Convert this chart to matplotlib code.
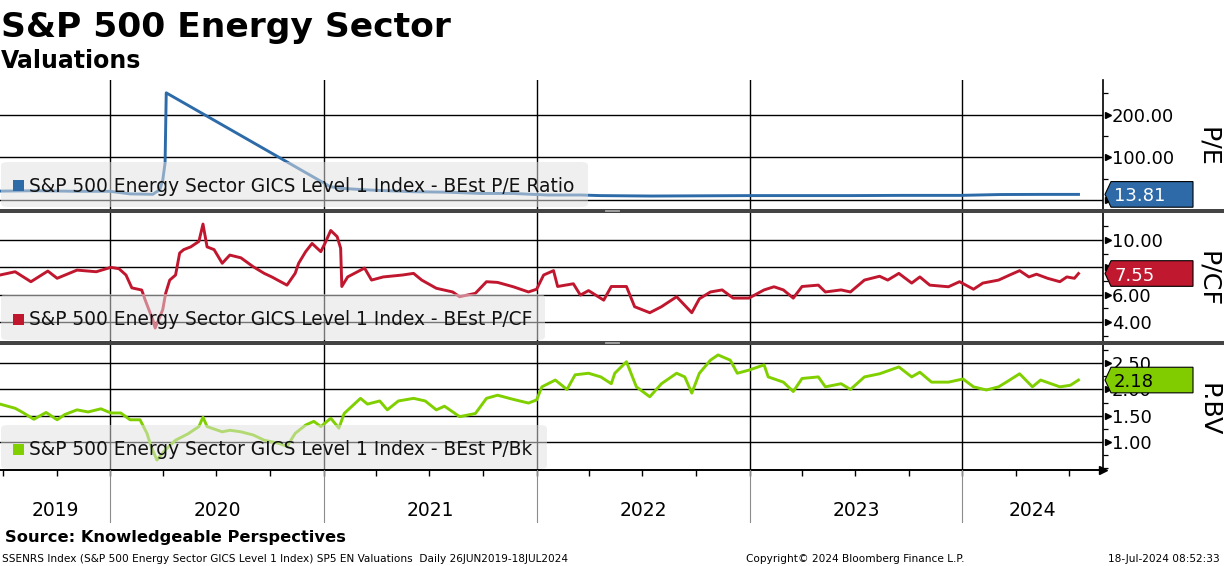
import matplotlib
matplotlib.use("Agg")
import matplotlib.pyplot as plt
import matplotlib.dates as mdates
import matplotlib.ticker as mticker
from matplotlib.patches import Polygon, FancyBboxPatch, Rectangle
from matplotlib.lines import Line2D
from matplotlib.transforms import blended_transform_factory
import pandas as pd

plt.rcParams['font.family'] = ['DejaVu Sans']

# ---------------- text ----------------
TITLE = "S&P 500 Energy Sector"
SUBTITLE = "Valuations"
SOURCE = "Source: Knowledgeable Perspectives"
FOOT_LEFT = "SSENRS Index (S&P 500 Energy Sector GICS Level 1 Index) SP5 EN Valuations  Daily 26JUN2019-18JUL2024"
FOOT_MID = "Copyright\u00a9 2024 Bloomberg Finance L.P."
FOOT_RIGHT = "18-Jul-2024 08:52:33"
panel_labels = ["P/E", "P/CF", "P.BV"]
legend_labels = ["S&P 500 Energy Sector GICS Level 1 Index - BEst P/E Ratio",
                 "S&P 500 Energy Sector GICS Level 1 Index - BEst P/CF",
                 "S&P 500 Energy Sector GICS Level 1 Index - BEst P/Bk"]

# ---------------- data ----------------
pe_dates = ["2019-06-26", "2019-08-30", "2019-11-05", "2020-01-01", "2020-02-04", "2020-03-14",
            "2020-03-26", "2020-03-31", "2020-04-04", "2020-04-06", "2021-01-12", "2021-01-30",
            "2021-03-21", "2021-06-04", "2021-07-31", "2021-09-27", "2021-11-22", "2022-01-19",
            "2022-03-17", "2022-04-20", "2022-07-16", "2022-10-08", "2022-12-31", "2023-03-29",
            "2023-06-23", "2023-09-17", "2023-12-28", "2024-03-06", "2024-05-14", "2024-07-18"]
pe_values = [21.5, 22.4, 21.0, 21.0, 15.0, 14.0,
             25.0, 47.0, 87.0, 251.0, 32.0, 28.0,
             24.0, 20.0, 19.0, 16.0, 16.0, 12.4,
             12.4, 11.0, 10.0, 10.5, 11.0, 11.0,
             11.0, 11.5, 11.5, 13.5, 13.8, 13.81]

pcf_dates = ["2019-06-26", "2019-07-22", "2019-08-18", "2019-09-16", "2019-10-02", "2019-11-05",
             "2019-12-08", "2020-01-02", "2020-01-16", "2020-01-28", "2020-02-07", "2020-02-24",
             "2020-03-01", "2020-03-14", "2020-03-18", "2020-03-31", "2020-04-05", "2020-04-12",
             "2020-04-22", "2020-04-29", "2020-05-06", "2020-05-18", "2020-06-01", "2020-06-08",
             "2020-06-15", "2020-06-27", "2020-07-11", "2020-07-24", "2020-08-12", "2020-09-02",
             "2020-09-21", "2020-10-04", "2020-10-30", "2020-11-13", "2020-11-19", "2020-12-01",
             "2020-12-12", "2020-12-27", "2021-01-03", "2021-01-13", "2021-01-24", "2021-01-30",
             "2021-02-01", "2021-02-11", "2021-03-12", "2021-03-24", "2021-04-13", "2021-05-16",
             "2021-06-04", "2021-06-18", "2021-07-13", "2021-08-10", "2021-08-22", "2021-09-18",
             "2021-10-07", "2021-10-26", "2021-11-22", "2021-12-18", "2022-01-01", "2022-01-13",
             "2022-01-30", "2022-02-06", "2022-03-05", "2022-03-17", "2022-03-31", "2022-04-26",
             "2022-05-09", "2022-06-04", "2022-06-18", "2022-07-14", "2022-08-03", "2022-08-29",
             "2022-09-24", "2022-10-07", "2022-10-26", "2022-11-15", "2022-12-04", "2022-12-31",
             "2023-01-26", "2023-02-12", "2023-02-28", "2023-03-17", "2023-04-01", "2023-04-29",
             "2023-05-11", "2023-06-07", "2023-06-23", "2023-07-17", "2023-08-12", "2023-08-26",
             "2023-09-14", "2023-10-06", "2023-10-20", "2023-11-06", "2023-12-08", "2023-12-27",
             "2024-01-20", "2024-02-05", "2024-03-03", "2024-03-22", "2024-04-08", "2024-04-24",
             "2024-05-07", "2024-05-26", "2024-06-16", "2024-06-28", "2024-07-11", "2024-07-18"]
pcf_values = [7.44, 7.68, 6.95, 7.73, 7.20, 7.80,
              7.68, 8.00, 7.90, 7.44, 6.50, 6.34,
              5.60, 4.15, 3.56, 4.90, 6.10, 7.07,
              7.44, 9.05, 9.30, 9.50, 9.90, 11.17,
              9.50, 9.30, 8.30, 8.90, 8.70, 8.05,
              7.56, 7.30, 6.70, 7.56, 8.30, 9.15,
              9.75, 9.15, 9.75, 10.70, 10.25, 9.40,
              6.60, 7.30, 7.95, 7.07, 7.30, 7.44,
              7.56, 7.07, 6.47, 6.20, 5.85, 6.10,
              6.95, 6.90, 6.58, 6.20, 6.40, 7.44,
              7.76, 6.60, 6.80, 5.97, 6.30, 5.60,
              6.60, 6.60, 5.12, 4.68, 5.12, 5.85,
              4.68, 5.70, 6.20, 6.35, 5.75, 5.75,
              6.35, 6.58, 6.35, 5.75, 6.60, 6.70,
              6.20, 6.35, 6.20, 7.07, 7.35, 7.07,
              7.56, 6.85, 7.30, 6.70, 6.58, 6.95,
              6.40, 6.85, 7.07, 7.44, 7.76, 7.30,
              7.50, 7.20, 6.95, 7.30, 7.20, 7.55]

pb_dates = ["2019-06-26", "2019-07-22", "2019-08-04", "2019-08-23", "2019-09-13", "2019-10-02",
            "2019-10-15", "2019-11-05", "2019-11-24", "2019-12-16", "2020-01-02", "2020-01-19",
            "2020-02-04", "2020-02-21", "2020-03-04", "2020-03-11", "2020-03-21", "2020-04-04",
            "2020-04-22", "2020-05-13", "2020-06-01", "2020-06-08", "2020-06-15", "2020-07-11",
            "2020-07-24", "2020-08-12", "2020-09-02", "2020-09-21", "2020-10-16", "2020-10-30",
            "2020-11-13", "2020-12-01", "2020-12-15", "2020-12-27", "2021-01-13", "2021-01-27",
            "2021-02-05", "2021-03-05", "2021-03-17", "2021-04-07", "2021-04-20", "2021-05-09",
            "2021-06-04", "2021-06-24", "2021-07-13", "2021-07-27", "2021-08-22", "2021-09-18",
            "2021-10-07", "2021-10-26", "2021-11-22", "2021-12-18", "2022-01-01", "2022-01-10",
            "2022-02-02", "2022-02-22", "2022-03-08", "2022-03-31", "2022-04-21", "2022-05-09",
            "2022-05-15", "2022-06-04", "2022-06-21", "2022-07-14", "2022-08-03", "2022-08-29",
            "2022-09-12", "2022-09-24", "2022-10-07", "2022-10-26", "2022-11-08", "2022-11-29",
            "2022-12-11", "2022-12-31", "2023-01-26", "2023-02-02", "2023-02-28", "2023-03-17",
            "2023-04-01", "2023-04-29", "2023-05-11", "2023-06-07", "2023-06-23", "2023-07-17",
            "2023-08-12", "2023-09-14", "2023-10-06", "2023-10-20", "2023-11-09", "2023-12-08",
            "2024-01-02", "2024-01-20", "2024-02-11", "2024-03-03", "2024-03-22", "2024-04-08",
            "2024-04-30", "2024-05-14", "2024-06-16", "2024-07-04", "2024-07-18"]
pb_values = [1.72, 1.64, 1.56, 1.43, 1.56, 1.42,
             1.52, 1.61, 1.57, 1.63, 1.55, 1.55,
             1.42, 1.42, 1.16, 0.91, 0.65, 0.84,
             1.03, 1.15, 1.29, 1.47, 1.29, 1.19,
             1.22, 1.19, 1.13, 1.03, 0.97, 0.91,
             1.16, 1.32, 1.39, 1.29, 1.45, 1.26,
             1.54, 1.83, 1.72, 1.78, 1.61, 1.78,
             1.83, 1.78, 1.61, 1.68, 1.48, 1.54,
             1.83, 1.89, 1.81, 1.74, 1.80, 2.05,
             2.18, 2.00, 2.28, 2.31, 2.24, 2.11,
             2.31, 2.53, 2.05, 1.86, 2.11, 2.31,
             2.24, 1.93, 2.31, 2.56, 2.66, 2.56,
             2.31, 2.37, 2.47, 2.24, 2.14, 1.96,
             2.21, 2.24, 2.05, 2.11, 2.00, 2.24,
             2.30, 2.43, 2.24, 2.33, 2.14, 2.14,
             2.20, 2.05, 1.99, 2.05, 2.18, 2.30,
             2.05, 2.18, 2.05, 2.08, 2.18]

pe_major = [0, 100, 200]
pe_major_labels = ["", "100.00", "200.00"]
pe_minor = [-50, 50, 150, 250]
pcf_major = [4, 6, 8, 10]
pcf_major_labels = ["4.00", "6.00", "8.00", "10.00"]
pcf_minor = [3, 5, 7, 9, 11]
pb_major = [1.0, 1.5, 2.0, 2.5]
pb_major_labels = ["1.00", "1.50", "2.00", "2.50"]
pb_minor = [0.5, 0.75, 1.25, 1.75, 2.25, 2.75]
years = [2019, 2020, 2021, 2022, 2023, 2024]
x_start, x_end = "2019-06-26", "2024-08-29"

colors = ["#2d6ba8", "#c0172f", "#80d000"]
box_colors = ["#2e6aa7", "#c0182f", "#80cc00"]
box_text_colors = ["white", "white", "black"]

# ---------------- layout (pixels) ----------------
W, H = 1224, 566
fig = plt.figure(figsize=(W / 100, H / 100), dpi=100)
PLOT_R = 1103


def fx(px):
    return px / W


def fy(py):
    return 1 - py / H


panel_geo = [(80, 209, (-20.3, 281.0)),
             (213, 341, (2.61, 11.98)),
             (345, 470, (0.46, 2.85))]
series = [(pe_dates, pe_values, pe_major, pe_minor, pe_major_labels),
          (pcf_dates, pcf_values, pcf_major, pcf_minor, pcf_major_labels),
          (pb_dates, pb_values, pb_major, pb_minor, pb_major_labels)]
legend_geo = [(162, 207, 588, 191.7), (294, 340, 545, 325), (425, 469, 547, 455)]
label_cy = [147, 279, 410]

xmin, xmax = pd.Timestamp(x_start), pd.Timestamp(x_end)
axes = []
for i, ((top, bot, ylim), (d, v, maj, mnr, labs)) in enumerate(zip(panel_geo, series)):
    ax = fig.add_axes([0, fy(bot), fx(PLOT_R), (bot - top) / H])
    axes.append(ax)
    ax.plot(pd.to_datetime(d), v, color=colors[i], lw=2.1, solid_joinstyle='round', zorder=3)
    ax.set_xlim(xmin, xmax)
    ax.set_ylim(*ylim)
    ax.yaxis.tick_right()
    ax.yaxis.set_major_locator(mticker.FixedLocator(maj))
    ax.yaxis.set_minor_locator(mticker.FixedLocator(mnr))
    ax.yaxis.set_major_formatter(mticker.FixedFormatter(labs))
    ax.tick_params(axis='y', which='major', length=0, pad=6.5, labelsize=13)
    ax.tick_params(axis='y', which='minor', length=3.5, width=0.9, direction='out', color='black')
    ax.xaxis.set_major_locator(mdates.YearLocator())
    ax.xaxis.set_minor_locator(mdates.MonthLocator(bymonth=[1, 4, 7, 10]))
    ax.grid(True, which='major', color='black', lw=1.0, zorder=1)
    for s in ['left', 'top', 'bottom']:
        ax.spines[s].set_visible(False)
    ax.spines['right'].set_linewidth(1.2)
    if i < 2:
        ax.tick_params(axis='x', which='both', length=0, labelbottom=False)
    else:
        ax.spines['bottom'].set_visible(True)
        ax.spines['bottom'].set_linewidth(1.4)
        ax.tick_params(axis='x', which='both', length=4.3, width=1.0, direction='out',
                       labelbottom=False)
        ax.plot([1.0], [0.0], marker='>', ms=6, color='black', transform=ax.transAxes,
                clip_on=False, zorder=6)
    # arrow heads on major ticks
    tr = blended_transform_factory(ax.transAxes, ax.transData)
    ax.plot([1.0 + 4.5 / PLOT_R] * len(maj), maj, ls='none', marker='>', ms=5,
            color='black', transform=tr, clip_on=False, zorder=6)
    # panel label
    fig.text(fx(1208), fy(label_cy[i]), panel_labels[i], rotation=270, ha='center',
             va='center', fontsize=18.3, color='black')

# ---------------- legends ----------------
for i, (ltop, lbot, lright, base) in enumerate(legend_geo):
    box = FancyBboxPatch((fx(1), fy(lbot)), fx(lright - 1), (lbot - ltop) / H,
                         boxstyle="round,pad=0,rounding_size=0.006",
                         transform=fig.transFigure, facecolor='#e2e2e2', edgecolor='none',
                         alpha=0.52, zorder=10)
    fig.patches.append(box)
    sq = Rectangle((fx(13), fy(base - 0.5)), fx(10.5), 11 / H, transform=fig.transFigure,
                   facecolor=colors[i], edgecolor='none', zorder=11)
    fig.patches.append(sq)
    fig.text(fx(29), fy(base), legend_labels[i], ha='left', va='baseline', fontsize=13.4,
             color='#111111', zorder=12)

# ---------------- last value boxes ----------------
fig.canvas.draw()
for i, (d, v, maj, mnr, labs) in enumerate(series):
    ax = axes[i]
    last = v[-1]
    ydisp = ax.transData.transform((mdates.date2num(pd.Timestamp(d[-1])), last))[1]
    yc = H - ydisp  # pixels from top
    hh = 12.8
    pts = [(1105, yc), (1111, yc - hh), (1193, yc - hh), (1193, yc + hh), (1111, yc + hh)]
    poly = Polygon([(fx(px), fy(py)) for px, py in pts], closed=True,
                   transform=fig.transFigure, facecolor=box_colors[i], edgecolor='black',
                   lw=0.8, zorder=20)
    fig.patches.append(poly)
    fig.text(fx(1114), fy(yc), f"{last:.2f}", ha='left', va='center_baseline', fontsize=13,
             color=box_text_colors[i], zorder=21)

# ---------------- separators ----------------
for (y0, y1) in [(208.5, 213), (340.5, 345)]:
    fig.patches.append(Rectangle((0, fy(y1)), 1, (y1 - y0) / H, transform=fig.transFigure,
                                 facecolor='#444444', edgecolor='none', zorder=15))
    for dy in (1.3, 2.8):
        fig.lines.append(Line2D([fx(605), fx(619)], [fy(y0 + dy), fy(y0 + dy)],
                                transform=fig.transFigure, color='#b0b0b0', lw=0.6, zorder=16))

# ---------------- bottom axis area ----------------
axb = fig.add_axes([0, fy(523), fx(PLOT_R), (523 - 470) / H])
axb.set_xlim(xmin, xmax)
axb.set_ylim(0, 1)
axb.axis('off')
for y in years:
    b = pd.Timestamp(f"{y}-01-01")
    if xmin < b < xmax:
        axb.axvline(b, color='#8c8c8c', lw=0.8)
    lo = max(b, xmin)
    hi = min(pd.Timestamp(f"{y + 1}-01-01"), xmax)
    mid = lo + (hi - lo) / 2
    axb.text(mid, (523 - 511) / 53, str(y), ha='center', va='center', fontsize=13.5,
             color='black')

# ---------------- titles & footer ----------------
fig.text(fx(1), fy(36.7), TITLE, ha='left', va='baseline', fontsize=24.8, fontweight='bold')
fig.text(fx(1), fy(68.5), SUBTITLE, ha='left', va='baseline', fontsize=17.0, fontweight='bold')
fig.text(fx(5), fy(542), SOURCE, ha='left', va='baseline', fontsize=11.7, fontweight='bold')
fig.text(fx(2), fy(558.5), FOOT_LEFT, ha='left', va='center', fontsize=7.6)
fig.text(fx(746), fy(558.5), FOOT_MID, ha='left', va='center', fontsize=7.6)
fig.text(fx(1220), fy(558.5), FOOT_RIGHT, ha='right', va='center', fontsize=7.6)

fig.savefig("out.png", dpi=100)
